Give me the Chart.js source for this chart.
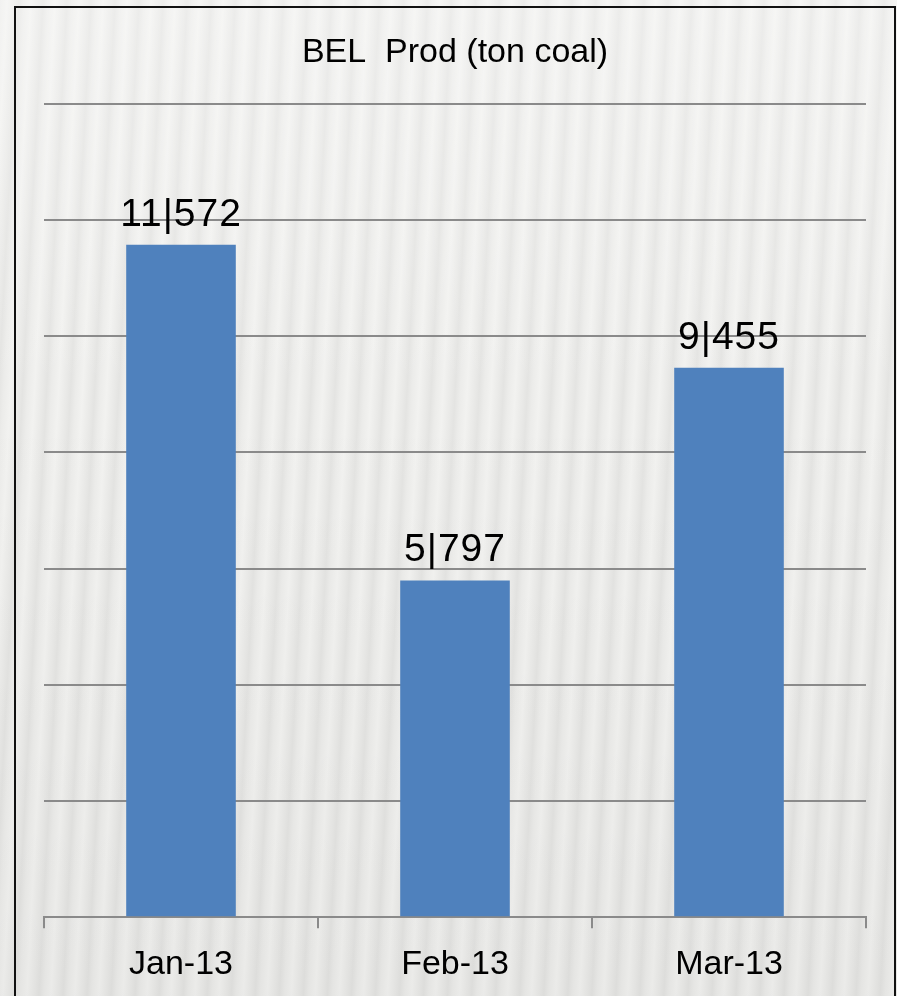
<!DOCTYPE html>
<html>
<head>
<meta charset="utf-8">
<script src="https://cdn.jsdelivr.net/npm/chart.js@4"></script>
<style>
  html, body { margin: 0; padding: 0; }
  body {
    width: 897px; height: 996px; overflow: hidden; position: relative;
    background:
      linear-gradient(180deg, rgba(255,255,255,0.3) 0%, rgba(255,255,255,0) 40%, rgba(0,0,0,0.03) 100%),
      repeating-linear-gradient(93deg, #ececea 0px, #f2f2f0 7px, #e9e9e7 15px, #e4e4e2 19px, #ececea 24px);
  }
  #frame {
    position: absolute; left: 14px; top: 6px; width: 878px; height: 1000px;
    border: 2px solid #111; border-bottom: none;
  }
  #wrap { position: absolute; left: 0; top: 0; width: 897px; height: 1001px; }
</style>
</head>
<body>
<div id="frame"></div>
<div id="wrap"><canvas id="chart"></canvas></div>
<script>
(() => {
  'use strict';

  // chart data
  const CATEGORIES = ['Jan-13', 'Feb-13', 'Mar-13'];
  const PROD = [11572, 5797, 9455];
  const Y_MAX = 14000;
  const Y_STEP = 2000;

  // 11572 -> "11|572"
  const fmt = (v) => String(Math.round(v)).replace(/\B(?=(\d{3})+(?!\d))/g, '|');

  // draw value labels above bars
  const valueLabels = {
    id: 'valueLabels',
    afterDatasetsDraw(chart) {
      const ctx = chart.ctx;
      const meta = chart.getDatasetMeta(0);
      ctx.save();
      ctx.font = '39px "Liberation Sans", Arial, sans-serif';
      ctx.letterSpacing = '1px';
      ctx.fillStyle = '#000';
      ctx.textAlign = 'center';
      ctx.textBaseline = 'alphabetic';
      meta.data.forEach((bar, i) => {
        ctx.fillText(fmt(PROD[i]), bar.x, bar.y - 19);
      });
      ctx.restore();
    },
  };

  new Chart(document.getElementById('chart'), {
    type: 'bar',
    data: {
      labels: CATEGORIES,
      datasets: [{
        data: PROD,
        backgroundColor: '#4f81bd',
        barPercentage: 0.8,
        categoryPercentage: 0.5,
      }],
    },
    options: {
      responsive: true,
      maintainAspectRatio: false,
      animation: false,
      layout: { padding: { left: 44, right: 31, top: 0, bottom: 0 } },

      scales: {
        y: {
          min: 0,
          max: Y_MAX,
          ticks: { display: false, stepSize: Y_STEP },
          border: { display: false },
          grid: { color: '#8a8a8a', lineWidth: 2, drawTicks: false },
        },

        x: {
          ticks: {
            color: '#000',
            padding: 16,
            font: { family: '"Liberation Sans", Arial, sans-serif', size: 34 },
          },
          border: { display: true, color: '#8a8a8a', width: 2 },
          grid: {
            offset: true,
            drawOnChartArea: false,
            drawTicks: true,
            tickLength: 11,
            color: '#8a8a8a',
            lineWidth: 2,
          },
        },
      },

      plugins: {
        legend: { display: false },
        tooltip: { enabled: false },
        title: {
          display: true,
          text: 'BEL  Prod (ton coal)',
          color: '#000',
          font: { family: '"Liberation Sans", Arial, sans-serif', size: 34, weight: 'normal' },
          padding: { top: 32, bottom: 31 },
        },
      },
    },
    plugins: [valueLabels],
  });
})();
</script>
</body>
</html>
